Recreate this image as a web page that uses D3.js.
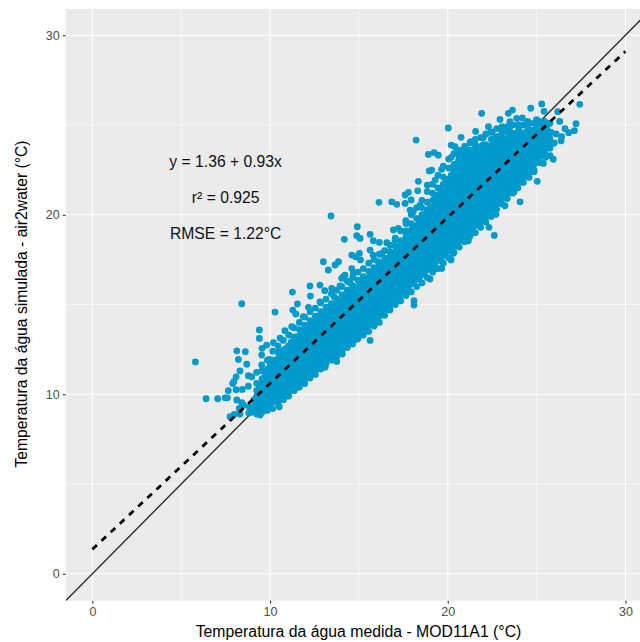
<!DOCTYPE html>
<html>
<head>
<meta charset="utf-8">
<script src="https://d3js.org/d3.v7.min.js"></script>
<style>
    body { margin: 0; background: #fff; }
    text { font-family: "Liberation Sans", sans-serif; }
</style>
</head>
<body>
<div id="scatter"></div>
<script>
// measured temperature of each column of the dense cloud
var obsColumns = [8.8, 9.1, 9.4, 9.7, 10, 10.3, 10.6, 10.9, 11.2, 11.5, 11.8, 12.1, 12.4, 12.7, 13, 13.3, 13.6, 13.9,
    14.2, 14.5, 14.8, 15.1, 15.4, 15.7, 16, 16.3, 16.6, 16.9, 17.2, 17.5, 17.8, 18.1, 18.4, 18.7, 19, 19.3, 19.6, 19.9,
    20.2, 20.5, 20.8, 21.1, 21.4, 21.7, 22, 22.3, 22.6, 22.9, 23.2, 23.5, 23.8, 24.1, 24.4, 24.7, 25, 25.3, 25.6];

// simulated temperatures read off for each of those columns
var simColumns = [
    [8.95, 9.3],
    [9.05, 9.35, 9.7],
    [9.15, 9.5, 9.8, 10.15, 10.45],
    [9.3, 9.65, 9.95, 10.3, 10.6, 10.95],
    [9.4, 9.75, 10.05, 10.4, 10.7, 11.05, 11.35, 11.6],
    [9.6, 9.9, 10.25, 10.55, 10.85, 11.2, 11.5, 11.85],
    [9.8, 10.1, 10.4, 10.75, 11.05, 11.35, 11.7, 12, 12.3],
    [10, 10.3, 10.6, 10.9, 11.25, 11.55, 11.85, 12.2, 12.55],
    [10.25, 10.55, 10.85, 11.15, 11.45, 11.75, 12.1, 12.4, 12.7, 12.9],
    [10.5, 10.8, 11.05, 11.35, 11.65, 11.95, 12.25, 12.6, 12.9, 13.2],
    [10.7, 11, 11.3, 11.6, 11.9, 12.2, 12.5, 12.8, 13.1, 13.4],
    [11, 11.25, 11.55, 11.85, 12.15, 12.45, 12.75, 13.05, 13.35, 13.65],
    [11.2, 11.5, 11.8, 12.1, 12.4, 12.7, 13, 13.3, 13.6, 13.95],
    [11.5, 11.75, 12.05, 12.35, 12.65, 12.95, 13.25, 13.55, 13.85, 14.15],
    [11.7, 12, 12.3, 12.6, 12.9, 13.2, 13.5, 13.8, 14.1, 14.4],
    [12, 12.25, 12.55, 12.85, 13.15, 13.45, 13.75, 14.05, 14.35, 14.65],
    [12.3, 12.55, 12.85, 13.1, 13.4, 13.7, 14, 14.3, 14.6, 14.9],
    [12.5, 12.8, 13.1, 13.4, 13.65, 13.95, 14.25, 14.55, 14.85, 15.1],
    [12.8, 13.05, 13.35, 13.65, 13.9, 14.2, 14.5, 14.8, 15.05, 15.3],
    [13, 13.3, 13.6, 13.9, 14.15, 14.45, 14.75, 15.05, 15.35, 15.6],
    [13.2, 13.5, 13.8, 14.1, 14.4, 14.7, 15, 15.3, 15.6, 15.8],
    [13.4, 13.7, 14, 14.3, 14.6, 14.9, 15.2, 15.5, 15.85, 16.1],
    [13.7, 13.95, 14.25, 14.55, 14.85, 15.15, 15.45, 15.75, 16.05, 16.4],
    [14, 14.25, 14.5, 14.8, 15.1, 15.4, 15.7, 16, 16.3, 16.7],
    [14.2, 14.5, 14.8, 15.1, 15.4, 15.7, 16, 16.3, 16.6, 17],
    [14.5, 14.8, 15.05, 15.35, 15.65, 15.95, 16.25, 16.55, 16.85, 17.3],
    [14.8, 15.1, 15.4, 15.7, 16, 16.3, 16.6, 16.9, 17.2, 17.5],
    [15.1, 15.35, 15.65, 15.95, 16.25, 16.55, 16.85, 17.15, 17.45, 17.8],
    [15.4, 15.7, 16, 16.3, 16.6, 16.9, 17.2, 17.5, 17.8, 18.1],
    [15.7, 15.95, 16.25, 16.55, 16.85, 17.15, 17.45, 17.75, 18.05, 18.35],
    [16, 16.3, 16.6, 16.9, 17.2, 17.5, 17.8, 18.1, 18.4, 18.7, 18.9],
    [16.3, 16.55, 16.85, 17.15, 17.45, 17.75, 18.05, 18.35, 18.65, 18.95, 19.3],
    [16.5, 16.8, 17.1, 17.4, 17.7, 18, 18.3, 18.6, 18.9, 19.2, 19.5, 19.7],
    [16.8, 17.05, 17.35, 17.65, 17.95, 18.25, 18.55, 18.85, 19.15, 19.45, 19.75, 20],
    [17, 17.3, 17.6, 17.9, 18.2, 18.5, 18.8, 19.1, 19.4, 19.7, 20, 20.4],
    [17.3, 17.55, 17.85, 18.15, 18.45, 18.75, 19.05, 19.35, 19.65, 19.95, 20.25, 20.55, 20.9],
    [17.6, 17.9, 18.2, 18.5, 18.8, 19.1, 19.4, 19.7, 20, 20.3, 20.6, 20.9, 21.15, 21.4],
    [17.9, 18.15, 18.45, 18.75, 19.05, 19.35, 19.65, 19.95, 20.25, 20.55, 20.85, 21.15, 21.45, 21.9],
    [18.1, 18.4, 18.7, 19, 19.3, 19.6, 19.9, 20.2, 20.5, 20.8, 21.1, 21.4, 21.7, 22, 22.2],
    [18.4, 18.65, 18.95, 19.25, 19.55, 19.85, 20.15, 20.45, 20.75, 21.05, 21.35, 21.65, 21.95, 22.25, 22.5],
    [18.7, 19, 19.3, 19.6, 19.9, 20.2, 20.5, 20.8, 21.1, 21.4, 21.7, 22, 22.3, 22.6, 22.8],
    [19, 19.25, 19.55, 19.85, 20.15, 20.45, 20.75, 21.05, 21.35, 21.65, 21.95, 22.25, 22.55, 22.8, 23],
    [19.3, 19.6, 19.9, 20.2, 20.5, 20.8, 21.1, 21.4, 21.7, 22, 22.3, 22.6, 22.9, 23.2],
    [19.5, 19.75, 20.05, 20.35, 20.65, 20.95, 21.25, 21.55, 21.85, 22.15, 22.45, 22.75, 23.05, 23.4],
    [19.8, 20.1, 20.4, 20.7, 21, 21.3, 21.6, 21.9, 22.2, 22.5, 22.8, 23.1, 23.5],
    [20.1, 20.35, 20.65, 20.95, 21.25, 21.55, 21.85, 22.15, 22.45, 22.75, 23.05, 23.35, 23.7],
    [20.5, 20.8, 21.1, 21.4, 21.7, 22, 22.3, 22.6, 22.9, 23.2, 23.5, 23.9],
    [20.8, 21.05, 21.35, 21.65, 21.95, 22.25, 22.55, 22.85, 23.15, 23.45, 23.75, 24.1],
    [21.1, 21.4, 21.7, 22, 22.3, 22.6, 22.9, 23.2, 23.5, 23.8, 24.2],
    [21.4, 21.65, 21.95, 22.25, 22.55, 22.85, 23.15, 23.45, 23.75, 24.05, 24.3],
    [21.7, 22, 22.3, 22.6, 22.9, 23.2, 23.5, 23.8, 24.1, 24.4],
    [22, 22.25, 22.55, 22.85, 23.15, 23.45, 23.75, 24.05, 24.35, 24.5],
    [22.3, 22.6, 22.9, 23.2, 23.5, 23.8, 24.1, 24.4, 24.6],
    [22.7, 22.95, 23.25, 23.55, 23.85, 24.15, 24.45, 24.7],
    [23, 23.3, 23.6, 23.9, 24.2, 24.5, 24.8],
    [23.4, 23.65, 23.95, 24.25, 24.55, 24.9],
    [23.8, 24.1, 24.4, 24.7, 25]
];

// second pass through the cloud, between the columns above
var obsMidColumns = [9.25, 9.55, 9.85, 10.15, 10.45, 10.75, 11.05, 11.35, 11.65, 11.95, 12.25, 12.55, 12.85, 13.15, 13.45,
    13.75, 14.05, 14.35, 14.65, 14.95, 15.25, 15.55, 15.85, 16.15, 16.45, 16.75, 17.05, 17.35, 17.65, 17.95, 18.25, 18.55,
    18.85, 19.15, 19.45, 19.75, 20.05, 20.35, 20.65, 20.95, 21.25, 21.55, 21.85, 22.15, 22.45, 22.75, 23.05, 23.35, 23.65,
    23.95, 24.25, 24.55, 24.85, 25.15, 25.45, 25.75];

var simMidColumns = [
    [8.9, 9.2, 9.6, 9.9, 10.2, 10.6],
    [9, 9.3, 9.65, 9.95, 10.25, 10.55, 10.85, 11.3],
    [9.1, 9.45, 9.8, 10.1, 10.4, 10.75, 11.1, 11.4, 11.9],
    [9.2, 9.6, 9.95, 10.25, 10.55, 10.9, 11.2, 11.55, 11.9, 12.4],
    [9.5, 9.8, 10.1, 10.4, 10.7, 11, 11.35, 11.65, 12, 12.35, 12.7],
    [9.7, 9.95, 10.25, 10.55, 10.9, 11.2, 11.5, 11.8, 12.15, 12.45, 13],
    [9.9, 10.15, 10.45, 10.75, 11.1, 11.4, 11.7, 12, 12.35, 12.7, 13.3],
    [10.2, 10.4, 10.7, 11, 11.3, 11.6, 11.9, 12.25, 12.55, 12.85, 13.2, 13.7],
    [10.4, 10.65, 10.95, 11.2, 11.5, 11.8, 12.05, 12.35, 12.65, 12.95, 13.25, 13.6, 14],
    [10.6, 10.85, 11.15, 11.45, 11.75, 12.05, 12.35, 12.65, 12.95, 13.25, 13.55, 13.85, 14.3],
    [10.9, 11.1, 11.4, 11.7, 12, 12.3, 12.6, 12.9, 13.2, 13.5, 13.8, 14.1, 14.6],
    [11.1, 11.35, 11.65, 11.95, 12.25, 12.55, 12.85, 13.15, 13.45, 13.75, 14.05, 14.35, 14.8],
    [11.4, 11.6, 11.9, 12.2, 12.5, 12.8, 13.1, 13.4, 13.7, 14, 14.3, 14.6, 15.1],
    [11.7, 11.85, 12.15, 12.45, 12.75, 13.05, 13.35, 13.65, 13.95, 14.25, 14.55, 14.85, 15.3],
    [11.9, 12.1, 12.4, 12.7, 13, 13.3, 13.55, 13.85, 14.15, 14.45, 14.75, 15.05, 15.6],
    [12.1, 12.4, 12.65, 12.95, 13.25, 13.55, 13.85, 14.1, 14.4, 14.7, 15, 15.3, 15.8],
    [12.4, 12.65, 12.95, 13.25, 13.5, 13.8, 14.05, 14.35, 14.65, 14.95, 15.2, 15.55, 16],
    [12.6, 12.9, 13.2, 13.5, 13.75, 14.05, 14.35, 14.6, 14.9, 15.2, 15.45, 15.8, 16.3],
    [12.8, 13.15, 13.45, 13.75, 14, 14.3, 14.6, 14.9, 15.2, 15.45, 15.7, 16.05, 16.5],
    [13.1, 13.35, 13.65, 13.95, 14.25, 14.55, 14.85, 15.15, 15.45, 15.7, 16, 16.35, 16.8],
    [13.3, 13.55, 13.85, 14.15, 14.45, 14.75, 15.05, 15.35, 15.65, 15.95, 16.25, 16.55, 17],
    [13.5, 13.85, 14.1, 14.4, 14.7, 15, 15.3, 15.6, 15.9, 16.2, 16.5, 16.85, 17.3],
    [13.8, 14.1, 14.35, 14.65, 14.95, 15.25, 15.55, 15.85, 16.15, 16.45, 16.75, 17.05, 17.5],
    [14, 14.35, 14.65, 14.95, 15.25, 15.55, 15.85, 16.15, 16.45, 16.7, 17, 17.3, 17.8],
    [14.4, 14.65, 14.9, 15.2, 15.5, 15.8, 16.1, 16.4, 16.7, 17, 17.3, 17.6, 18],
    [14.7, 14.95, 15.25, 15.55, 15.85, 16.15, 16.45, 16.75, 17.05, 17.35, 17.65, 17.95, 18.3],
    [15, 15.2, 15.5, 15.8, 16.1, 16.4, 16.7, 17, 17.3, 17.6, 17.9, 18.25, 18.7],
    [15.2, 15.55, 15.85, 16.15, 16.45, 16.75, 17.05, 17.35, 17.65, 17.95, 18.25, 18.55, 19.1],
    [15.5, 15.8, 16.1, 16.4, 16.7, 17, 17.3, 17.6, 17.9, 18.2, 18.5, 18.8, 19.1, 19.5],
    [15.7, 16.15, 16.45, 16.75, 17.05, 17.35, 17.65, 17.95, 18.25, 18.55, 18.85, 19.15, 19.5, 20],
    [16, 16.4, 16.7, 17, 17.3, 17.6, 17.9, 18.2, 18.5, 18.8, 19.1, 19.4, 19.8, 20.4],
    [16.2, 16.65, 16.95, 17.25, 17.55, 17.85, 18.15, 18.45, 18.75, 19.05, 19.35, 19.65, 20, 20.4, 20.8],
    [16.5, 16.95, 17.2, 17.5, 17.8, 18.1, 18.4, 18.7, 19, 19.3, 19.6, 19.9, 20.25, 20.7, 21.3],
    [16.8, 17.15, 17.45, 17.75, 18.05, 18.35, 18.65, 18.95, 19.25, 19.55, 19.85, 20.15, 20.45, 20.8, 21.2, 21.7],
    [17, 17.45, 17.7, 18, 18.3, 18.6, 18.9, 19.2, 19.5, 19.8, 20.1, 20.4, 20.75, 21.1, 21.5, 22.2],
    [17.3, 17.7, 18, 18.3, 18.6, 18.9, 19.2, 19.5, 19.8, 20.1, 20.4, 20.7, 21, 21.3, 21.7, 22.1, 22.7],
    [17.6, 18, 18.3, 18.6, 18.9, 19.2, 19.5, 19.8, 20.1, 20.4, 20.7, 21, 21.3, 21.6, 22, 22.6, 23.1],
    [17.9, 18.25, 18.55, 18.85, 19.15, 19.45, 19.75, 20.05, 20.35, 20.65, 20.95, 21.25, 21.55, 21.85, 22.3, 22.8, 23.4],
    [18.2, 18.55, 18.85, 19.1, 19.4, 19.7, 20, 20.3, 20.6, 20.9, 21.2, 21.5, 21.8, 22.1, 22.45, 22.8, 23.2, 23.6],
    [18.5, 18.85, 19.1, 19.4, 19.7, 20, 20.3, 20.6, 20.9, 21.2, 21.5, 21.8, 22.1, 22.4, 22.7, 23.1, 23.4, 23.8],
    [18.8, 19.1, 19.4, 19.7, 20, 20.3, 20.6, 20.9, 21.2, 21.5, 21.8, 22.1, 22.4, 22.7, 22.95, 23.3, 23.6, 24],
    [19, 19.4, 19.7, 20, 20.3, 20.6, 20.9, 21.2, 21.5, 21.8, 22.1, 22.4, 22.7, 23, 23.3, 23.6, 23.9, 24.2],
    [19.3, 19.6, 19.9, 20.2, 20.5, 20.8, 21.1, 21.4, 21.7, 22, 22.3, 22.6, 22.9, 23.2, 23.5, 23.8, 24.3],
    [19.6, 19.9, 20.2, 20.5, 20.85, 21.15, 21.45, 21.75, 22.05, 22.35, 22.65, 22.95, 23.25, 23.6, 23.9, 24.5],
    [19.9, 20.2, 20.5, 20.8, 21.1, 21.4, 21.7, 22, 22.3, 22.6, 22.9, 23.2, 23.55, 23.85, 24.2, 24.6],
    [20.3, 20.6, 20.9, 21.2, 21.5, 21.8, 22.1, 22.4, 22.7, 23, 23.35, 23.65, 24, 24.35, 24.8],
    [20.6, 20.9, 21.2, 21.5, 21.8, 22.1, 22.4, 22.7, 23, 23.3, 23.6, 23.95, 24.3, 24.6, 24.9],
    [20.9, 21.2, 21.5, 21.8, 22.1, 22.4, 22.7, 23, 23.3, 23.6, 23.95, 24.25, 24.6, 24.9],
    [21.2, 21.5, 21.8, 22.1, 22.4, 22.7, 23, 23.3, 23.6, 23.9, 24.2, 24.55, 25],
    [21.5, 21.8, 22.1, 22.4, 22.7, 23, 23.3, 23.6, 23.9, 24.25, 24.6, 25],
    [21.8, 22.1, 22.4, 22.7, 23, 23.3, 23.6, 23.9, 24.2, 24.55, 25],
    [22.2, 22.45, 22.75, 23.05, 23.35, 23.65, 23.95, 24.25, 24.55, 25.1],
    [22.5, 22.8, 23.1, 23.4, 23.7, 24, 24.3, 24.6, 25.1],
    [22.9, 23.15, 23.45, 23.75, 24.05, 24.35, 24.65, 25.2],
    [23.3, 23.5, 23.8, 24.1, 24.4, 24.75, 25.2],
    [23.7, 23.95, 24.25, 24.55, 25.1]
];

// loose points around the edge of the cloud, read one by one
var edgeObs = [5.8, 6.4, 7.05, 7.47, 7.6, 7.65, 7.9, 8.09, 8.44, 8.78, 8.09, 8.31, 8.22, 8.13, 8.61, 8.69, 8.41, 9.4, 9.4, 10.28,
    9.55, 9.81, 9.53, 9.96, 9.53, 9.25, 8.78, 8.97, 7.97, 8.13, 8.41, 8.27, 8.5, 7.75, 7.99, 8.31, 8.91, 9.44, 9.36, 9.87,
    10.52, 10.84, 11.5, 13.1, 13.75, 14.07, 15.63, 14.88, 11.26, 11.54, 11.28, 11.45, 12.25, 12.27, 12.81, 13.08, 13.47,
    13.94, 13.6, 14.13, 14.6, 13.28, 13, 13.66, 13.85, 10.84, 11.22, 10.56, 10.19, 11.87, 12.16, 12.81, 13.19,
    18.22, 20.03, 21.91, 21.57, 22.29, 22.94, 23.41, 23.64, 23.5, 23.88, 24.2, 24.67, 25.29, 25.42, 26.19, 27.43, 27.22,
    27.13, 26.6, 26.81, 26.41, 26.38, 25.94, 25.76, 25.94, 25.38, 24.86, 24.58, 25.04, 24.07, 23.73, 23.22, 22.62, 22.32,
    22.72, 21.16, 20.54, 20.31, 19.66, 19.28, 20.19, 19, 18.1, 18.1, 17.31, 18.91, 19.23, 19.47, 20.19, 20.41, 20.75, 21.3,
    19.1, 18.96, 19.66, 18.35, 18.31, 18.85, 19.29, 17.79, 17.6, 17.94, 16.85, 17.13, 17.6, 18.44, 17.88, 18.06, 17.64,
    16.94, 17.22, 16.13, 14.91, 14.88, 15.07, 14.18, 15.63, 15.81, 16.15, 16.57, 17.03, 14.6, 14.82, 15.09, 15.03, 15.63,
    15.8, 16.1, 16.29, 14.22, 14.03, 14.69, 14.5, 20.2, 20.2, 20.6, 20.6, 21, 21, 21.5, 21.5, 22, 22, 22.5, 22.5, 23, 23,
    23.5, 23.5, 24, 24, 24.5, 24.5, 25, 25, 25.5, 26, 26.1, 25.8, 26.3, 13.43];

var edgeSim = [11.8, 9.75, 9.75, 9.8, 9.8, 10.2, 10.6, 10.25, 10.27, 10.45, 10.97, 11.3, 11.94, 12.42, 12.37, 11.67, 15.04, 13.58, 13.11, 14.58,
    12.56, 12.74, 12.18, 11.94, 11.63, 11.22, 11.03, 10.97, 10.7, 9.68, 9.53, 9.21, 9.4, 8.75, 8.88, 8.9, 8.99, 8.84, 9.3, 9.19,
    9.3, 9.86, 10.36, 11.5, 11.83, 12.24, 13, 13.06, 15.69, 15.03, 14.69, 14.47, 16.03, 15.47, 16.08, 15.77, 15.9,
    16.03, 15.43, 16.55, 17, 16.92, 17.38, 17.2, 17.38, 13.54, 13.76, 13.13, 12.87, 14.32, 14.84, 15.15, 14.8,
    24.16, 24.83, 25.65, 24.64, 24.9, 25.31, 25.65, 25.83, 25.18, 25.37, 25.39, 25.93, 26.17, 25.76, 25.74, 26.15, 25.07,
    24.68, 24.79, 24.57, 24.35, 24.12, 23.98, 23.29, 23.09, 22.86, 22.4, 22.08, 21.86, 20.72, 21.26, 20.5, 18.85, 19.3,
    20.02, 18.55, 18.37, 17.85, 17.01, 17.01, 17.48, 16.42, 15.21, 14.97, 15.25, 23.36, 23.46, 23.32, 23.88, 23.79, 24.31, 24.07,
    22.49, 22.44, 22.53, 21.86, 21.33, 21.65, 21.93, 21.25, 21.1, 20.82, 20.72, 20.58, 20.63, 20.54, 20.26, 20.16, 19.67,
    19.15, 19.24, 20.69, 19.33, 18.83, 18.68, 18.63, 18.91, 18.55, 18.46, 18.44, 18.59, 17.75, 17.66, 17.48, 17.85, 18.03,
    17.75, 17.38, 17.85, 16.64, 16.46, 16.74, 16.2, 22.6, 23.2, 23, 23.5, 23.3, 23.7, 23.6, 24, 23.9, 24.3, 24.2, 24.6, 24.4, 24.8,
    24.6, 24.9, 24.8, 25, 24.9, 25.2, 25.1, 25.3, 23.2, 24, 24.5, 24.6, 25.2, 19.93];

// identity line and fitted line
var identityLine = [-1.5, 31];
var fitObs = [0, 30];
var fitSim = [1.36, 29.1];

var xTicks = [0, 10, 20, 30];
var yTicks = [0, 10, 20, 30];
var xMinor = [5, 15, 25];
var yMinor = [5, 15, 25];

var annotations = ["y = 1.36 + 0.93x", "r² = 0.925", "RMSE = 1.22°C"];
var annotationX = [7.5, 7.5, 7.5];
var annotationY = [22.95, 20.95, 18.95];

var xTitle = "Temperatura da água medida - MOD11A1 (°C)";
var yTitle = "Temperatura da água simulada - air2water (°C)";

var svgWidth = 640;
var svgHeight = 642;

var margin = { top: 9, bottom: 41.3, right: 0, left: 65.7 };
var height = svgHeight - margin.top - margin.bottom;
var width = svgWidth - margin.left - margin.right;

var svg = d3.select("#scatter")
    .append("svg")
    .attr("width", svgWidth)
    .attr("height", svgHeight)
    .style("display", "block");

var chartGroup = svg.append("g")
    .attr("transform", `translate(${margin.left}, ${margin.top})`);

svg.append("defs").append("clipPath")
    .attr("id", "panel")
    .append("rect")
    .attr("width", width)
    .attr("height", height);

var xLinearScale = d3.scaleLinear().domain([-1.5, 30.82]).range([0, width]);
var yLinearScale = d3.scaleLinear().domain([-1.5, 31.46]).range([height, 0]);

// panel and grid
chartGroup.append("rect")
    .attr("width", width)
    .attr("height", height)
    .attr("fill", "#EBEBEB");

chartGroup.selectAll(".minorX").data(xMinor).enter().append("line")
    .attr("x1", d => xLinearScale(d)).attr("x2", d => xLinearScale(d))
    .attr("y1", 0).attr("y2", height)
    .attr("stroke", "#fff").attr("stroke-width", 0.55);

chartGroup.selectAll(".minorY").data(yMinor).enter().append("line")
    .attr("y1", d => yLinearScale(d)).attr("y2", d => yLinearScale(d))
    .attr("x1", 0).attr("x2", width)
    .attr("stroke", "#fff").attr("stroke-width", 0.55);

chartGroup.selectAll(".majorX").data(xTicks).enter().append("line")
    .attr("x1", d => xLinearScale(d)).attr("x2", d => xLinearScale(d))
    .attr("y1", 0).attr("y2", height)
    .attr("stroke", "#fff").attr("stroke-width", 1.1);

chartGroup.selectAll(".majorY").data(yTicks).enter().append("line")
    .attr("y1", d => yLinearScale(d)).attr("y2", d => yLinearScale(d))
    .attr("x1", 0).attr("x2", width)
    .attr("stroke", "#fff").attr("stroke-width", 1.1);

var plotGroup = chartGroup.append("g").attr("clip-path", "url(#panel)");

// solid 1:1 line goes under the points
plotGroup.append("line")
    .attr("x1", xLinearScale(identityLine[0]))
    .attr("y1", yLinearScale(identityLine[0]))
    .attr("x2", xLinearScale(identityLine[1]))
    .attr("y2", yLinearScale(identityLine[1]))
    .attr("stroke", "#2b2b2b")
    .attr("stroke-width", 1.4);

// flatten the columns and add the edge points
var points = [];
obsColumns.forEach(function(x, i) {
    simColumns[i].forEach(function(y) {
        points.push({ obs: x, sim: y });
    });
});
obsMidColumns.forEach(function(x, i) {
    simMidColumns[i].forEach(function(y) {
        points.push({ obs: x, sim: y });
    });
});
edgeObs.forEach(function(x, i) {
    points.push({ obs: x, sim: edgeSim[i] });
});

plotGroup.selectAll("circle")
    .data(points)
    .enter()
    .append("circle")
    .attr("cx", d => xLinearScale(d.obs))
    .attr("cy", d => yLinearScale(d.sim))
    .attr("r", 3.4)
    .attr("fill", "#009ACD");

// dashed fit line
plotGroup.append("line")
    .attr("x1", xLinearScale(fitObs[0]))
    .attr("y1", yLinearScale(fitSim[0]))
    .attr("x2", xLinearScale(fitObs[1]))
    .attr("y2", yLinearScale(fitSim[1]))
    .attr("stroke", "#000")
    .attr("stroke-width", 2.8)
    .attr("stroke-dasharray", "6.27 6.27");

// annotation text
chartGroup.selectAll(".note")
    .data(annotations)
    .enter()
    .append("text")
    .attr("class", "note")
    .attr("x", (d, i) => xLinearScale(annotationX[i]))
    .attr("y", (d, i) => yLinearScale(annotationY[i]))
    .attr("dy", "0.35em")
    .attr("text-anchor", "middle")
    .attr("font-size", "15.7px")
    .attr("fill", "#111")
    .text(d => d);

// axes
var xAxis = d3.axisBottom(xLinearScale).tickValues(xTicks).tickSize(3).tickPadding(3);
var yAxis = d3.axisLeft(yLinearScale).tickValues(yTicks).tickSize(3).tickPadding(3);

var xAxisGroup = chartGroup.append("g")
    .attr("transform", `translate(0, ${height})`)
    .call(xAxis);

var yAxisGroup = chartGroup.append("g")
    .call(yAxis);

[xAxisGroup, yAxisGroup].forEach(function(g) {
    g.select(".domain").remove();
    g.selectAll(".tick line").attr("stroke", "#333").attr("stroke-width", 1.1);
    g.selectAll(".tick text")
        .attr("fill", "#4D4D4D")
        .attr("font-size", "12.5px")
        .attr("font-family", "Liberation Sans, sans-serif");
});

// axis titles
svg.append("text")
    .attr("x", 358.5)
    .attr("y", 637)
    .attr("text-anchor", "middle")
    .attr("font-size", "15.8px")
    .attr("fill", "#000")
    .text(xTitle);

svg.append("text")
    .attr("transform", "translate(27, 304) rotate(-90)")
    .attr("text-anchor", "middle")
    .attr("font-size", "15.7px")
    .attr("fill", "#000")
    .text(yTitle);
</script>
</body>
</html>
